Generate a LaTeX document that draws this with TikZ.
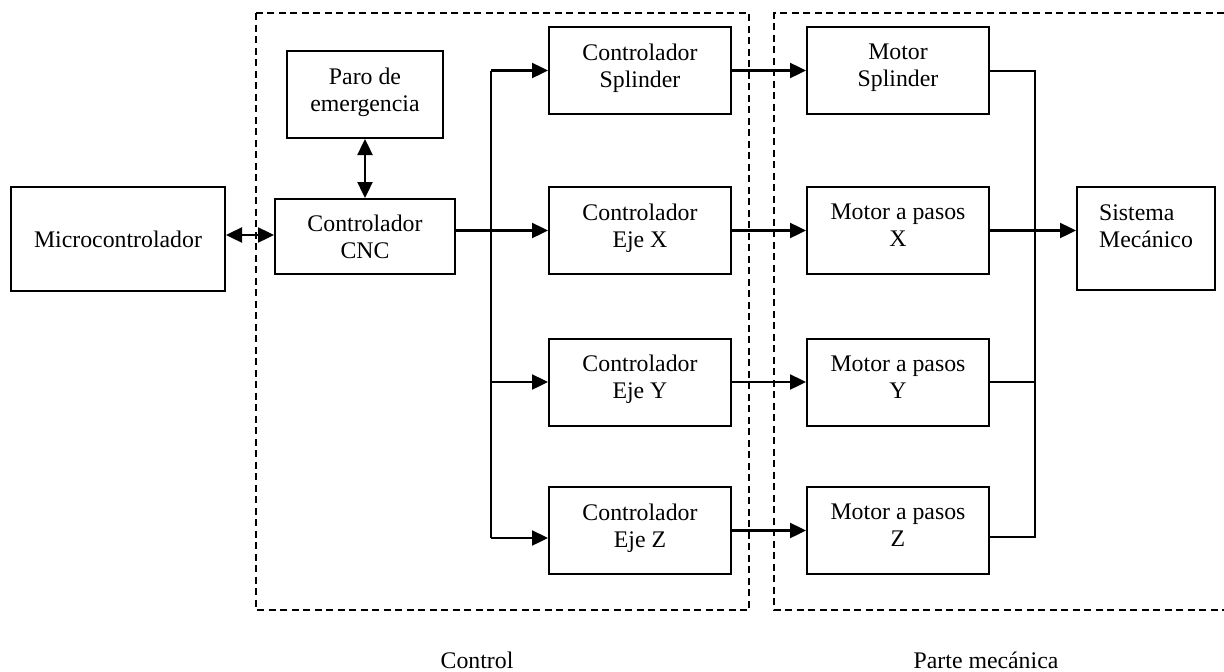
\documentclass[tikz,border=0pt]{standalone}
\usepackage{fontspec}
\setmainfont{Liberation Serif}
\usetikzlibrary{arrows.meta}
\begin{document}
\begin{tikzpicture}[x=1pt,y=-1pt,
  font=\fontsize{23.8}{27}\selectfont,
  box/.style={draw, line width=2pt, minimum width=182pt, minimum height=87pt, align=center, inner sep=0pt},
  lift/.style={execute at end node={\rule[-10pt]{0pt}{10pt}}},
  arr/.style={line width=2.4pt, -{Triangle[length=16pt,width=15pt]}},
  dbl/.style={line width=2.4pt, {Triangle[length=16pt,width=15pt]}-{Triangle[length=16pt,width=15pt]}},
  bus/.style={line width=2.4pt},
  wire/.style={line width=2pt},
  frame/.style={line width=1.8pt, dash pattern=on 7pt off 4.5pt}]
\useasboundingbox (0,0) rectangle (1224,672);

% dashed frames
\draw[frame] (256,13) rectangle (749,610);
\draw[frame] (1224,13) -- (774,13) -- (774,610) -- (1224,610);

% blocks
\node[box, minimum width=214pt, minimum height=104pt] (micro) at (118,239) {Microcontrolador};
\node[box, minimum width=156pt, minimum height=87pt, lift] (paro) at (365,94.5) {Paro de\\emergencia};
\node[box, minimum width=180pt, minimum height=75pt] (cnc) at (365,236.5) {Controlador\\CNC};

\node[box,lift] (cspl) at (640,70.5) {Controlador\\Splinder};
\node[box,lift] (cx) at (640,230.5) {Controlador\\Eje X};
\node[box,lift] (cy) at (640,382) {Controlador\\Eje Y};
\node[box,lift] (cz) at (640,530.5) {Controlador\\Eje Z};

\node[box,lift] (mspl) at (898,70.5) {Motor\\Splinder};
\node[box,lift] (mx) at (898,230.5) {Motor a pasos\\X};
\node[box,lift] (my) at (898,382) {Motor a pasos\\Y};
\node[box,lift] (mz) at (898,530.5) {Motor a pasos\\Z};

\node[box, minimum width=138pt, minimum height=103pt] (sis) at (1146,238.5) {};
\node[align=left, inner sep=0pt] (sistxt) at (1146,226) {Sistema\\Mecánico};

% labels
\node[anchor=base, inner sep=0pt] (lctrl) at (477,668) {Control};
\node[anchor=base, inner sep=0pt] (lmec) at (986,668) {Parte mecánica};

% connectors
\draw[dbl] ([yshift=4pt]micro.east) -- ([yshift=4pt]micro.east -| cnc.west);
\draw[dbl] (paro.south) -- (cnc.north);
\draw[arr] (cnc.east |- cx.west) -- (cx.west);

\coordinate (bt) at (491,70.5);
\coordinate (bb) at (491,538);
\draw[bus] (bt) -- (bb);
\draw[arr] (bt) -- (cspl.west);
\draw[arr] (bt |- cy.west) -- (cy.west);
\draw[arr] (bb) -- (bb -| cz.west);

\draw[arr] (cspl.east) -- (mspl.west);
\draw[arr] (cx.east) -- (mx.west);
\draw[arr] (cy.east) -- (my.west);
\draw[arr] (cz.east) -- (mz.west);

\coordinate (rt) at (1035,70.5);
\coordinate (rb) at (1035,537);
\draw[wire] (mspl.east) -- (rt) -- (rb) -- (rb -| mz.east);
\draw[wire] (my.east) -- (my.east -| rt);
\draw[arr] (mx.east) -- (mx.east -| sis.west);
\end{tikzpicture}
\end{document}
